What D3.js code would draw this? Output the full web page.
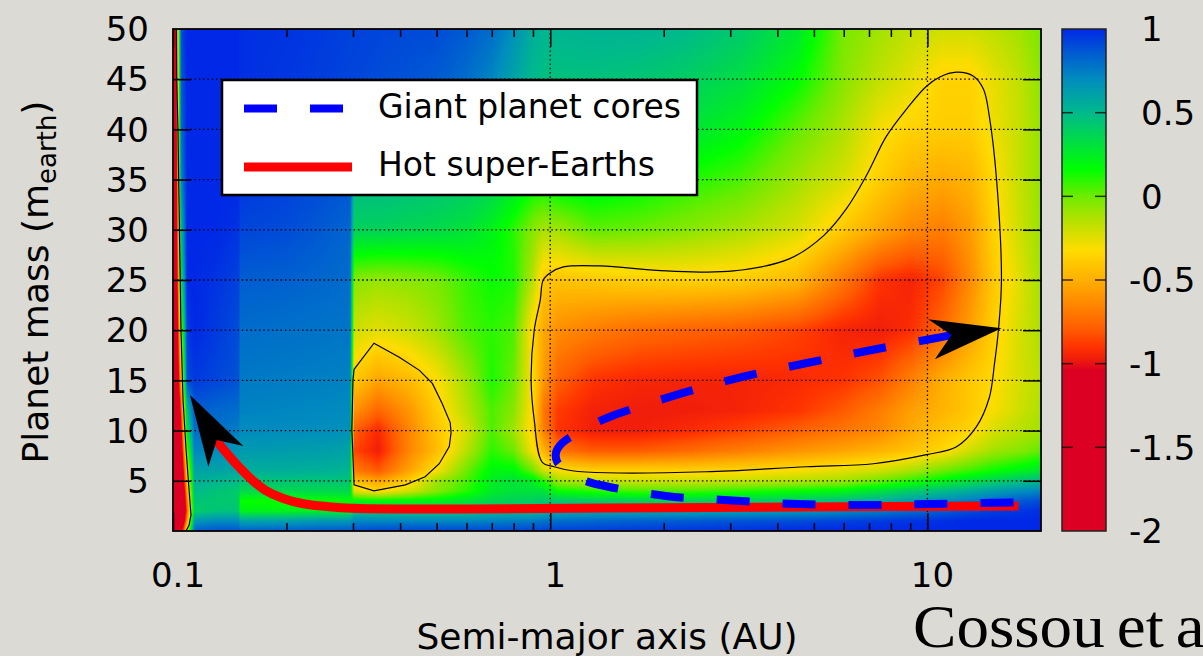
<!DOCTYPE html>
<html><head><meta charset="utf-8">
<script src="https://cdn.jsdelivr.net/npm/d3@7"></script>
<style>
html,body{margin:0;padding:0;background:#dbdad4;overflow:hidden}
svg{display:block}
text{fill:#000}
</style></head>
<body>
<svg id="chart" width="1203" height="656"></svg>
<script>
// ---------------- data ----------------
// grid columns: semi-major axis (AU)
const axisAU = [0.1,0.102,0.105,0.109,0.114,0.13,0.149,0.151,0.2,0.25,0.295,0.302,0.35,0.42,0.5,0.6,0.7,0.8,0.9,0.96,1.05,1.3,1.7,2.3,3.2,4.5,6,7.5,9,11,13,15,17.5,20];
// grid rows: planet mass (Earth masses)
const massRows = [0,1,2,3,4,5,6,8,10,12,15,20,25,30,35,40,45,50];
// normalised torque, one row per mass
const torque = [
/* 0 */ [-2,-2,-1.2,-0.2,0.85,0.88,0.88,0.85,0.86,0.87,0.88,0.9,0.92,0.92,0.92,0.92,0.92,0.93,0.93,0.94,0.94,0.95,0.96,0.97,0.98,1,1,1,1,1,1,1,1,1],
/* 1 */ [-2,-2,-1.6,-0.6,0.65,0.7,0.7,0.6,0.62,0.65,0.65,0.72,0.72,0.72,0.72,0.72,0.74,0.75,0.76,0.78,0.8,0.82,0.84,0.86,0.88,0.9,0.93,0.95,0.97,0.98,1,1,1,1],
/* 2 */ [-2,-2,-1.8,-0.8,0.4,0.45,0.45,0.22,0.22,0.24,0.25,0.45,0.45,0.45,0.45,0.45,0.5,0.5,0.5,0.55,0.58,0.6,0.6,0.6,0.62,0.65,0.7,0.75,0.8,0.85,0.9,0.94,0.96,0.98],
/* 3 */ [-2,-2,-1.8,-0.7,0.45,0.43,0.42,0.15,0.15,0.16,0.18,0.2,0.18,0.2,0.22,0.28,0.35,0.38,0.4,0.42,0.42,0.4,0.38,0.38,0.4,0.42,0.48,0.55,0.62,0.7,0.76,0.82,0.86,0.9],
/* 4 */ [-2,-1.9,-1.7,-0.55,0.5,0.45,0.42,0.35,0.35,0.35,0.35,-0.25,-0.35,-0.22,-0.05,0.1,0.25,0.3,0.3,0.3,0.15,0.1,0.05,0.05,0.1,0.15,0.2,0.3,0.4,0.48,0.55,0.62,0.68,0.72],
/* 5 */ [-2,-1.9,-1.6,-0.4,0.55,0.52,0.5,0.45,0.45,0.45,0.45,-0.45,-0.55,-0.38,-0.1,0.05,0.25,0.3,0.25,0.1,-0.1,-0.18,-0.2,-0.2,-0.18,-0.15,-0.1,0,0.1,0.2,0.3,0.38,0.45,0.5],
/* 6 */ [-2,-1.9,-1.5,-0.3,0.6,0.6,0.58,0.55,0.55,0.54,0.52,-0.68,-0.8,-0.55,-0.3,0,0.2,0.2,0,-0.2,-0.3,-0.36,-0.36,-0.36,-0.34,-0.3,-0.25,-0.2,-0.12,0,0.08,0.15,0.22,0.28],
/* 8 */ [-2,-1.8,-1.3,0,0.72,0.7,0.66,0.64,0.63,0.62,0.6,-0.85,-0.97,-0.66,-0.45,-0.15,0.1,0,-0.3,-0.48,-0.72,-0.8,-0.8,-0.75,-0.68,-0.6,-0.54,-0.48,-0.42,-0.34,-0.2,-0.1,-0.05,0.02],
/* 10 */ [-2,-1.8,-1.1,0.3,0.8,0.78,0.75,0.7,0.7,0.69,0.68,-0.78,-0.93,-0.66,-0.42,-0.22,0.05,-0.1,-0.36,-0.66,-0.9,-0.97,-0.97,-0.93,-0.86,-0.78,-0.7,-0.64,-0.52,-0.42,-0.35,-0.22,-0.15,-0.1],
/* 12 */ [-2,-1.7,-0.9,0.5,0.85,0.82,0.8,0.73,0.72,0.71,0.7,-0.6,-0.76,-0.6,-0.38,-0.15,0.05,-0.05,-0.34,-0.7,-0.88,-0.96,-0.97,-0.97,-0.95,-0.9,-0.8,-0.68,-0.56,-0.48,-0.4,-0.3,-0.2,-0.12],
/* 15 */ [-2,-1.6,-0.5,0.9,0.95,0.92,0.88,0.76,0.75,0.74,0.73,-0.4,-0.54,-0.46,-0.32,-0.1,0.12,0,-0.33,-0.58,-0.78,-0.9,-0.94,-0.95,-0.95,-0.93,-0.9,-0.82,-0.67,-0.5,-0.4,-0.33,-0.22,-0.15],
/* 20 */ [-2,-1.5,-0.1,0.95,1,0.95,0.9,0.8,0.79,0.78,0.77,-0.2,-0.25,-0.2,-0.1,0.05,0.1,0.05,-0.35,-0.52,-0.62,-0.68,-0.74,-0.77,-0.8,-0.86,-0.95,-0.97,-0.92,-0.74,-0.55,-0.37,-0.22,-0.12],
/* 25 */ [-2,-1.4,0.3,1,1,0.97,0.93,0.85,0.84,0.82,0.8,-0.05,-0.08,-0.06,-0.02,0.08,0.15,0.12,-0.15,-0.4,-0.42,-0.4,-0.37,-0.36,-0.38,-0.46,-0.7,-0.9,-0.95,-0.85,-0.63,-0.4,-0.25,-0.1],
/* 30 */ [-2,-1.3,0.5,1,1,1,0.97,0.92,0.9,0.86,0.82,0.38,0.38,0.36,0.34,0.3,0.22,0.1,-0.05,-0.12,-0.1,0.02,0,-0.05,-0.12,-0.22,-0.4,-0.54,-0.64,-0.68,-0.57,-0.36,-0.2,-0.08],
/* 35 */ [-2,-1.2,0.7,1,1,1,1,0.96,0.93,0.9,0.88,0.5,0.5,0.48,0.46,0.43,0.38,0.3,0.2,0.2,0.25,0.25,0.2,0.12,0.05,-0.1,-0.22,-0.38,-0.48,-0.52,-0.48,-0.33,-0.18,-0.07],
/* 40 */ [-2,-1.1,0.8,1,1,1,1,0.97,0.95,0.92,0.9,0.75,0.72,0.68,0.64,0.6,0.55,0.5,0.45,0.42,0.42,0.4,0.36,0.3,0.2,0.02,-0.13,-0.3,-0.36,-0.38,-0.38,-0.28,-0.18,-0.07],
/* 45 */ [-2,-1,0.85,1,1,1,1,0.98,0.96,0.94,0.92,0.92,0.9,0.88,0.86,0.8,0.72,0.6,0.5,0.47,0.46,0.46,0.44,0.4,0.32,0.17,-0.05,-0.17,-0.25,-0.36,-0.36,-0.26,-0.17,-0.06],
/* 50 */ [-2,-1,0.9,1,1,1,1,0.98,0.97,0.95,0.93,0.93,0.92,0.91,0.9,0.86,0.8,0.68,0.55,0.52,0.52,0.53,0.53,0.5,0.42,0.28,-0.02,-0.1,-0.17,-0.2,-0.2,-0.16,-0.1,-0.02]
];
// colour map
const cbValues = [-2,-1.04,-0.97,-0.9,-0.8,-0.68,-0.5,-0.32,-0.14,0,0.16,0.355,0.5,0.7,0.86,1];
const cbColors = ["#dc0023","#dc0023","#f01e0a","#ff3200","#ff5a00","#ff7d00","#ffaf00","#ffdc00","#b4e100","#6eeb00","#00ff00","#00d750","#00b98c","#008cbe","#005ad2","#0028e6"];
const cbTicks = [1,0.5,0,-0.5,-1,-1.5,-2];
// axis ticks
const xMajorTicks = [0.1,1,10];
const xMinorTicks = [0.2,0.3,0.4,0.5,0.6,0.7,0.8,0.9,2,3,4,5,6,7,8,9];
const yTicks = [5,10,15,20,25,30,35,40,45];
// contour lines (AU, mass)
const contourBig = [[0.952,6.87],[0.907,11.06],[0.89,15.04],[0.907,20],[0.941,23],[0.958,25],[1.0,25.7],[1.083,26.3],[1.357,26.4],[2.04,25.9],[3.06,25.9],[4.3,27.1],[5.3,29.4],[6.1,32.1],[6.89,35.4],[7.78,39.3],[8.79,42],[9.94,44.3],[10.76,45.2],[11.94,45.7],[13.24,45.3],[14.08,44],[14.59,41.3],[15.24,35.1],[15.71,25],[15.42,20],[15.06,16.7],[14.59,13.3],[13.49,10.4],[11.94,8.4],[9.94,7.6],[7.19,6.7],[4.77,6.4],[2.59,5.9],[1.408,5.8],[1.144,6.0],[1.025,6.4]];
const contourSmall = [[0.302,16.1],[0.341,18.7],[0.398,17.3],[0.45,16],[0.487,14.7],[0.517,12.7],[0.543,10.8],[0.546,9.8],[0.54,8.4],[0.508,6.7],[0.466,5.4],[0.413,4.6],[0.341,4.0],[0.302,4.6],[0.298,10.1],[0.3,15]];
const contourInner = [[0.1021,50],[0.1023,44.9],[0.1031,39.9],[0.104,29.9],[0.105,19.9],[0.1063,13.1],[0.1083,8.1],[0.1103,4.1],[0.1116,1.6],[0.1103,0.6],[0.1083,0]];
// migration tracks (AU, mass)
const hotSuperEarths = [[17.43,2.49],[4.6,2.39],[1.399,2.29],[0.621,2.19],[0.4124,2.19],[0.2985,2.26],[0.2588,2.42],[0.2239,2.69],[0.1945,3.29],[0.1754,4.08],[0.1621,5.08],[0.1494,6.4],[0.1416,7.37],[0.1322,8.73],[0.1306,9.06]];
const hotArrow = [[0.1109,13.55],[0.1241,6.4],[0.1306,9.06],[0.1536,8.47]];
const giantCores = [[16.91,2.84],[10.19,2.69],[6.76,2.59],[4.52,2.69],[3.04,3.04],[2.025,3.49],[1.357,4.58],[1.223,5.08],[1.116,5.88],[1.044,6.87],[1.037,7.87],[1.076,8.76],[1.165,9.66],[1.357,10.96],[1.505,11.65],[2.226,13.7],[3.27,15.39],[4.86,16.78],[7.23,18.08],[10.56,19.22],[11.58,19.52]];
const giantArrow = [[15.72,20.19],[10.04,21.08],[11.58,19.52],[10.46,17.1]];
const legendLabels = ["Giant planet cores","Hot super-Earths"];

// ---------------- chart ----------------
const SANS = '"DejaVu Sans", sans-serif';
const svg = d3.select("#chart");
const L=173, R=1041, T=29, B=531;
const x = d3.scaleLog().domain([0.1,20]).range([L,R]);
const y = d3.scaleLinear().domain([0,50]).range([B,T]);
const color = d3.scaleLinear().domain(cbValues).range(cbColors).clamp(true);

// heatmap (bilinear shading of the grid)
const pw=R-L, ph=B-T;
const cv=document.createElement("canvas"); cv.width=pw; cv.height=ph;
const ctx=cv.getContext("2d"); const im=ctx.createImageData(pw,ph);
const lut=[]; for(let k=0;k<=1200;k++){lut.push(d3.rgb(color(-2+3*k/1200)));}
const lx=axisAU.map(Math.log);
for(let j=0;j<ph;j++){
  const m=y.invert(T+j+0.5);
  let r=d3.bisectRight(massRows,m)-1; r=Math.max(0,Math.min(massRows.length-2,r));
  const tv=Math.max(0,Math.min(1,(m-massRows[r])/(massRows[r+1]-massRows[r])));
  for(let i=0;i<pw;i++){
    const a=Math.log(x.invert(L+i+0.5));
    let c=d3.bisectRight(lx,a)-1; c=Math.max(0,Math.min(lx.length-2,c));
    const tu=Math.max(0,Math.min(1,(a-lx[c])/(lx[c+1]-lx[c])));
    const v=(1-tv)*((1-tu)*torque[r][c]+tu*torque[r][c+1])+tv*((1-tu)*torque[r+1][c]+tu*torque[r+1][c+1]);
    const k=Math.max(0,Math.min(1200,Math.round((v+2)/3*1200)));
    const col=lut[k]; const p=(j*pw+i)*4;
    im.data[p]=col.r; im.data[p+1]=col.g; im.data[p+2]=col.b; im.data[p+3]=255;
  }
}
ctx.putImageData(im,0,0);
svg.append("image").attr("x",L).attr("y",T).attr("width",pw).attr("height",ph)
  .attr("preserveAspectRatio","none").attr("href",cv.toDataURL());

// grid
const grid=svg.append("g").attr("stroke","#000").attr("stroke-width",1.3).attr("stroke-dasharray","1.5,2.8");
grid.selectAll(".gy").data(yTicks).join("line").attr("x1",L).attr("x2",R).attr("y1",d=>y(d)).attr("y2",d=>y(d));
grid.selectAll(".gx").data([1,10]).join("line").attr("y1",T).attr("y2",B).attr("x1",d=>x(d)).attr("x2",d=>x(d));

// contours
const line=d3.line().x(d=>x(d[0])).y(d=>y(d[1]));
svg.append("path").datum(contourBig).attr("d",line.curve(d3.curveCatmullRomClosed)).attr("fill","none").attr("stroke","#000").attr("stroke-width",1.2);
svg.append("path").datum(contourSmall).attr("d",d3.line().x(d=>x(d[0])).y(d=>y(d[1])).curve(d3.curveLinearClosed)).attr("fill","none").attr("stroke","#000").attr("stroke-width",1.2);
svg.append("path").datum(contourInner).attr("d",d3.line().x(d=>x(d[0])).y(d=>y(d[1]))).attr("fill","none").attr("stroke","#000").attr("stroke-width",1.2);

// axes ticks (inward)
const ax=svg.append("g");
ax.append("g").attr("transform",`translate(0,${B})`).call(d3.axisBottom(x).tickValues(xMinorTicks).tickSize(-8).tickFormat(""));
ax.append("g").attr("transform",`translate(0,${T})`).call(d3.axisTop(x).tickValues(xMinorTicks).tickSize(-8).tickFormat(""));
ax.append("g").attr("transform",`translate(0,${B})`).call(d3.axisBottom(x).tickValues(xMajorTicks).tickSize(-18).tickFormat(""));
ax.append("g").attr("transform",`translate(0,${T})`).call(d3.axisTop(x).tickValues(xMajorTicks).tickSize(-18).tickFormat(""));
ax.append("g").attr("transform",`translate(${L},0)`).call(d3.axisLeft(y).tickValues(yTicks).tickSize(-18).tickFormat(""));
ax.append("g").attr("transform",`translate(${R},0)`).call(d3.axisRight(y).tickValues(yTicks).tickSize(-18).tickFormat(""));
ax.selectAll(".domain").remove();
ax.selectAll(".tick line").attr("stroke","#000").attr("stroke-width",1.5);
svg.append("rect").attr("x",L).attr("y",T).attr("width",pw).attr("height",ph).attr("fill","none").attr("stroke","#000").attr("stroke-width",1.8);

// tick labels
svg.append("g").selectAll("text").data(yTicks.concat([50])).join("text").style("font-family",SANS)
  .attr("x",149).attr("y",d=>y(d)).attr("dy","0.36em").attr("text-anchor","end").attr("font-size",34).text(d=>d);
svg.append("g").selectAll("text").data(xMajorTicks).join("text").style("font-family",SANS)
  .attr("x",d=>x(d)+5).attr("y",587).attr("text-anchor","middle").attr("font-size",34).text(d=>d3.format("~g")(d));

// tracks
const pl=d3.line().x(d=>x(d[0])).y(d=>y(d[1])).curve(d3.curveCatmullRom);
svg.append("path").datum(hotSuperEarths).attr("d",pl).attr("fill","none").attr("stroke","#ff0000").attr("stroke-width",9);
svg.append("path").datum(giantCores).attr("d",pl).attr("fill","none").attr("stroke","#0000ff").attr("stroke-width",8).attr("stroke-dasharray","33,33");
const poly=d3.line().x(d=>x(d[0])).y(d=>y(d[1])).curve(d3.curveLinearClosed);
svg.append("path").datum(hotArrow).attr("d",poly).attr("fill","#000");
svg.append("path").datum(giantArrow).attr("d",poly).attr("fill","#000");

// legend
const lg=svg.append("g");
lg.append("rect").attr("x",222).attr("y",80).attr("width",475).attr("height",115).attr("fill","#fff").attr("stroke","#000").attr("stroke-width",2.5);
lg.append("line").attr("x1",244).attr("x2",343).attr("y1",108.5).attr("y2",108.5).attr("stroke","#0000ff").attr("stroke-width",8).attr("stroke-dasharray","33,33");
lg.append("line").attr("x1",244).attr("x2",352).attr("y1",167).attr("y2",167).attr("stroke","#ff0000").attr("stroke-width",9);
lg.selectAll("text").data(legendLabels).join("text").style("font-family",SANS).attr("x",378).attr("y",(d,i)=>118+i*58).attr("font-size",33).text(d=>d);

// colour bar
const cb=d3.scaleLinear().domain([-2,1]).range([B,T]);
const defs=svg.append("defs");
const gr=defs.append("linearGradient").attr("id","cbg").attr("x1",0).attr("x2",0).attr("y1",1).attr("y2",0);
gr.selectAll("stop").data(cbValues).join("stop").attr("offset",d=>(d+2)/3).attr("stop-color",(d,i)=>cbColors[i]);
svg.append("rect").attr("x",1062).attr("y",T).attr("width",44).attr("height",B-T).attr("fill","url(#cbg)").attr("stroke","#222").attr("stroke-width",1.5);
const cbt=svg.append("g").attr("stroke","#000").attr("stroke-opacity",0.75).attr("stroke-width",1.5);
cbt.selectAll(".l").data(cbTicks.slice(1,-1)).join("line").attr("x1",1062).attr("x2",1073).attr("y1",d=>cb(d)).attr("y2",d=>cb(d));
cbt.selectAll(".r").data(cbTicks.slice(1,-1)).join("line").attr("x1",1095).attr("x2",1106).attr("y1",d=>cb(d)).attr("y2",d=>cb(d));
svg.append("g").selectAll("text").data(cbTicks).join("text").style("font-family",SANS)
  .attr("x",d=>d<0?1129:1141).attr("y",d=>cb(d)).attr("dy","0.36em").attr("font-size",34).text(d=>String(d));

// axis titles
svg.append("text").style("font-family",SANS).attr("x",607).attr("y",649).attr("text-anchor","middle").attr("font-size",36).text("Semi-major axis (AU)");
const yt=svg.append("text").style("font-family",SANS).attr("transform","translate(48,282) rotate(-90)").attr("text-anchor","middle").attr("font-size",36);
yt.append("tspan").text("Planet mass (m");
yt.append("tspan").attr("font-size",26).attr("dy",8).text("earth");
yt.append("tspan").attr("dy",-8).text(")");

// citation (runs off the slide edge, as in the source)
svg.append("text").style("font-family","'Liberation Serif', 'DejaVu Serif', serif")
  .attr("transform","translate(913,647) scale(1.05,1)").attr("font-size",62).attr("word-spacing",-4).text("Cossou et al.");
</script>
</body></html>
